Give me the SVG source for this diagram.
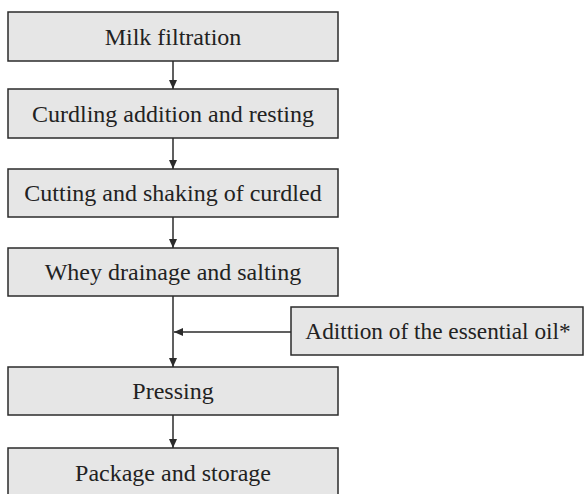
<svg xmlns="http://www.w3.org/2000/svg" width="585" height="494" viewBox="0 0 585 494">
<defs>
<style>
.box{fill:#e6e6e6;stroke:#2b2b2b;stroke-width:1.5}
.lbl{font-family:"Liberation Serif","DejaVu Serif",serif;font-size:24px;fill:#222;text-anchor:middle}
.con{stroke:#2b2b2b;stroke-width:1.5;fill:none}
</style>
<marker id="ah" viewBox="0 0 10 10" refX="10" refY="5" markerWidth="9" markerHeight="8" markerUnits="userSpaceOnUse" orient="auto" preserveAspectRatio="none">
<path d="M0,0 L10,5 L0,10 Z" fill="#2b2b2b"/>
</marker>
</defs>
<rect width="585" height="494" fill="#fff"/>
<g id="n1"><rect class="box" x="8" y="12" width="330" height="49"/><text class="lbl" x="173" y="44.5">Milk filtration</text></g>
<g id="n2"><rect class="box" x="8" y="89" width="330" height="49"/><text class="lbl" x="173" y="121.5">Curdling addition and resting</text></g>
<g id="n3"><rect class="box" x="8" y="169" width="330" height="48"/><text class="lbl" x="173" y="201">Cutting and shaking of curdled</text></g>
<g id="n4"><rect class="box" x="8" y="248" width="330" height="48"/><text class="lbl" x="173" y="280">Whey drainage and salting</text></g>
<g id="n5"><rect class="box" x="291" y="307" width="292" height="48"/><text class="lbl" x="438" y="339" style="font-size:23.3px">Adittion of the essential oil*</text></g>
<g id="n6"><rect class="box" x="8" y="367" width="330" height="48"/><text class="lbl" x="173" y="399">Pressing</text></g>
<g id="n7"><rect class="box" x="8" y="448" width="330" height="49"/><text class="lbl" x="173" y="480.5">Package and storage</text></g>
<g id="connectors">
<line class="con" x1="173" y1="61" x2="173" y2="89" marker-end="url(#ah)"/>
<line class="con" x1="173" y1="138" x2="173" y2="169" marker-end="url(#ah)"/>
<line class="con" x1="173" y1="217" x2="173" y2="248" marker-end="url(#ah)"/>
<line class="con" x1="173" y1="296" x2="173" y2="367" marker-end="url(#ah)"/>
<line class="con" x1="291" y1="332" x2="174" y2="332" marker-end="url(#ah)"/>
<line class="con" x1="173" y1="415" x2="173" y2="448" marker-end="url(#ah)"/>
</g>
</svg>
